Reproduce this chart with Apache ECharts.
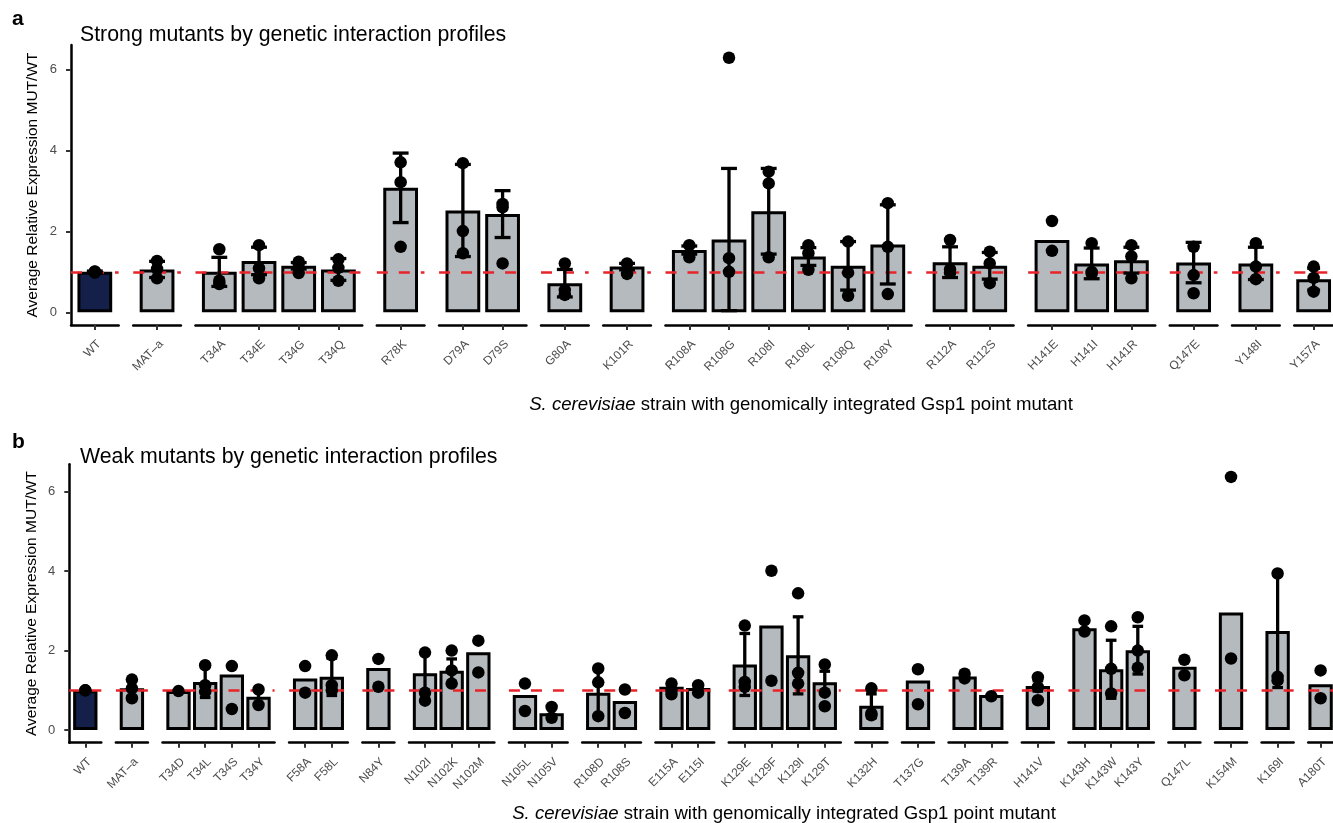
<!DOCTYPE html>
<html><head><meta charset="utf-8">
<script src="https://cdn.jsdelivr.net/npm/echarts@6/dist/echarts.min.js"></script>
<style>html,body{margin:0;padding:0;background:#fff}#c{width:1333px;height:823px}</style>
</head><body><div id="c"></div>
<script>
// ---------- Panel a: strong mutants ----------
const strongNames = ['WT','MAT\u2013a','T34A','T34E','T34G','T34Q','R78K','D79A','D79S','G80A','K101R',
  'R108A','R108G','R108I','R108L','R108Q','R108Y','R112A','R112S','H141E','H141I','H141R','Q147E','Y148I','Y157A'];
const strongMeans = [1.0,1.06,1.0,1.27,1.15,1.06,3.08,2.52,2.43,0.72,1.13,
  1.54,1.8,2.5,1.38,1.15,1.68,1.24,1.15,1.79,1.21,1.29,1.23,1.21,0.82];
const strongSd = [0.02,0.2,0.36,0.34,0.08,0.27,0.86,1.14,0.58,0.34,0.08,
  0.1,1.76,1.06,0.22,0.6,0.98,0.38,0.33,null,0.38,0.32,0.5,0.4,0.27];
const strongPoints = [[1.0,0.98,1.01],[1.27,1.07,0.84],[1.56,0.78,0.70],[1.66,1.09,0.84],[1.25,1.2,0.97],
  [1.31,1.1,0.78],[3.71,3.22,1.62],[3.69,2.01,1.46],[2.68,2.6,1.21],[1.21,0.55,0.43],[1.21,0.95],
  [1.66,1.36],[6.3,1.34,1.0],[3.48,3.19,1.36],[1.66,1.46,1.05],[1.75,0.98,0.41],[2.7,1.62,0.45],
  [1.79,1.06,0.98],[1.5,1.21,0.72],[2.26,1.52],[1.71,1.0,0.96],[1.66,1.38,0.84],[1.62,0.92,0.47],
  [1.71,1.13,0.82],[1.13,0.85,0.51]];

// ---------- Panel b: weak mutants ----------
const weakNames = ['WT','MAT\u2013a','T34D','T34L','T34S','T34Y','F58A','F58L','N84Y','N102I','N102K','N102M',
  'N105L','N105V','R108D','R108S','E115A','E115I','K129E','K129F','K129I','K129T','K132H','T137G',
  'T139A','T139R','H141V','K143H','K143W','K143Y','Q147L','K154M','K169I','A180T'];
const weakMeans = [1.0,1.05,0.98,1.21,1.40,0.84,1.3,1.34,1.56,1.43,1.49,1.96,
  0.88,0.42,0.94,0.73,1.09,1.06,1.65,2.63,1.88,1.2,0.61,1.25,
  1.35,0.88,1.11,2.56,1.53,2.01,1.59,2.96,2.49,1.15];
const weakSd = [0.02,0.2,null,0.39,null,0.18,null,0.47,null,0.52,0.3,null,
  null,null,0.6,null,0.1,0.08,0.78,null,0.97,0.28,0.3,null,
  null,null,0.13,null,0.73,0.6,null,null,1.42,null];
const weakPoints = [[1.0,1.0],[1.27,1.05,0.8],[0.98],[1.63,1.13,0.96],[1.61,0.53],[1.02,0.63],[1.61,0.94],
  [1.88,1.13,1.0],[1.79,1.09],[1.95,0.94,0.74],[2.0,1.5,1.17],[2.25,1.45],[1.17,0.48],[0.58,0.31],
  [1.55,1.2,0.35],[1.02,0.43],[1.17,1.0,0.9],[1.13,0.94],[2.63,1.21,1.09],[4.01,1.24],[3.44,1.44,1.17],
  [1.65,0.94,0.6],[1.05,0.42,0.37],[1.53,0.65],[1.42,1.3],[0.85],[1.33,1.08,0.75],[2.76,2.48],
  [2.61,1.54,0.92],[2.84,2.0,1.57],[1.77,1.38],[6.37,1.8],[3.94,1.34,1.25],[1.5,0.8]];

const yTicks = [0,2,4,6];
const refLine = 1;

// ---------- styling ----------
const FONT = '"Liberation Sans", Arial, Helvetica, sans-serif';
const NAVY = '#14204a', GRAY = '#b5babe', RED = '#e8242b';
const BORDER = 3;

const grids = [], xAxes = [], yAxes = [], series = [];

function buildPanel(names, means, sds, pts, L) {
  const facets = [];
  names.forEach((n, i) => {
    const key = n.slice(0, -1);
    let f = facets[facets.length - 1];
    if (!f || f.key !== key) { f = { key, idx: [] }; facets.push(f); }
    f.idx.push(i);
  });
  const tops = pts.flat().concat(means.map((m, i) => m + (sds[i] || 0)));
  const dmax = Math.max(...tops), pad = dmax * 0.05;
  let cum = 0;
  facets.forEach((f, g) => {
    const n = f.idx.length;
    const gi = grids.length;
    grids.push({ left: L.left + (cum + 0.2 * g) * L.unit + g * L.gap, top: L.top,
                 width: (n + 0.2) * L.unit, height: L.height, containLabel: false });
    cum += n;
    const pos = f.idx.map((_, j) => j);
    xAxes.push({
      type: 'value', gridIndex: gi, min: -0.6, max: n - 0.4, splitLine: { show: false },
      axisLine: { show: true, onZero: false, lineStyle: { color: '#000', width: 2.5 } },
      axisTick: { show: true, customValues: pos, length: 5, lineStyle: { color: '#333', width: 2 } },
      axisLabel: { customValues: pos, formatter: v => names[f.idx[Math.round(v)]], rotate: 45,
        align: 'right', verticalAlign: 'top', fontSize: 12, color: '#4d4d4d', margin: 13, fontFamily: FONT }
    });
    const first = g === 0;
    yAxes.push({
      type: 'value', gridIndex: gi, min: -pad, max: dmax + pad, show: first, splitLine: { show: false },
      axisLine: { show: true, onZero: false, lineStyle: { color: '#000', width: 2.5 } },
      axisTick: { show: true, customValues: yTicks, length: 5, lineStyle: { color: '#333', width: 2 } },
      axisLabel: { customValues: yTicks, fontSize: 13, color: '#4d4d4d', margin: 14, fontFamily: FONT },
      name: first ? 'Average Relative Expression MUT/WT' : '', nameLocation: 'middle', nameGap: 30, nameRotate: 90,
      nameTextStyle: { fontSize: 15.5, color: '#000', fontFamily: FONT }
    });
    series.push({
      type: 'bar', xAxisIndex: gi, yAxisIndex: gi, barWidth: 0.8 * L.unit + BORDER, z: 2,
      itemStyle: { borderColor: '#000', borderWidth: BORDER },
      data: f.idx.map((i, j) => ({ value: [j, means[i]], itemStyle: { color: names[i] === 'WT' ? NAVY : GRAY } })),
      markLine: { silent: true, symbol: 'none', label: { show: false }, z: 5,
        lineStyle: { color: RED, type: [11, 11], width: 2.5 }, data: [{ yAxis: refLine }] }
    });
    series.push({
      type: 'custom', xAxisIndex: gi, yAxisIndex: gi, z: 8,
      data: f.idx.map((i, j) => [j, means[i], sds[i]]).filter(d => d[2] != null),
      renderItem: (params, api) => {
        const x = api.value(0), m = api.value(1), s = api.value(2);
        const t = api.coord([x, m + s]), b = api.coord([x, m - s]);
        const hw = api.size([0.2, 0])[0];
        const st = { stroke: '#000', lineWidth: 3.3 };
        return { type: 'group', children: [
          { type: 'line', shape: { x1: t[0], y1: t[1], x2: b[0], y2: b[1] }, style: st },
          { type: 'line', shape: { x1: t[0] - hw, y1: t[1], x2: t[0] + hw, y2: t[1] }, style: st },
          { type: 'line', shape: { x1: b[0] - hw, y1: b[1], x2: b[0] + hw, y2: b[1] }, style: st }
        ] };
      }
    });
    const sc = [];
    f.idx.forEach((i, j) => pts[i].forEach(v => sc.push([j, v])));
    series.push({ type: 'scatter', xAxisIndex: gi, yAxisIndex: gi, z: 10, symbolSize: 12.5,
      itemStyle: { color: '#000', opacity: 1 }, data: sc });
  });
}

buildPanel(strongNames, strongMeans, strongSd, strongPoints, { left: 71, unit: 39.7, gap: 14.6, top: 45, height: 280 });
buildPanel(weakNames, weakMeans, weakSd, weakPoints, { left: 69.3, unit: 26.67, gap: 14.6, top: 464.3, height: 278.4 });

const txt = (x, y, text, extra) => ({ type: 'text', x, y, silent: true,
  style: Object.assign({ text, fill: '#000', fontFamily: FONT, textAlign: 'left', textVerticalAlign: 'middle' }, extra) });
const xTitle = '{i|S. cerevisiae}{n| strain with genomically integrated Gsp1 point mutant}';
const rich = { i: { fontStyle: 'italic', fontSize: 18.6, fontFamily: FONT, fill: '#000' }, n: { fontSize: 18.6, fontFamily: FONT, fill: '#000' } };

const chart = echarts.init(document.getElementById('c'), null, { renderer: 'canvas' });
chart.setOption({
  animation: false,
  backgroundColor: '#fff',
  grid: grids, xAxis: xAxes, yAxis: yAxes, series,
  graphic: [
    txt(12, 19.5, 'a', { fontSize: 21, fontWeight: 'bold' }),
    txt(80, 35.5, 'Strong mutants by genetic interaction profiles', { fontSize: 21.3 }),
    txt(801, 404.5, xTitle, { fontSize: 18.6, textAlign: 'center', rich }),
    txt(12, 442, 'b', { fontSize: 21, fontWeight: 'bold' }),
    txt(80, 457, 'Weak mutants by genetic interaction profiles', { fontSize: 21.3 }),
    txt(784, 813.5, xTitle, { fontSize: 18.6, textAlign: 'center', rich })
  ]
});
</script></body></html>
